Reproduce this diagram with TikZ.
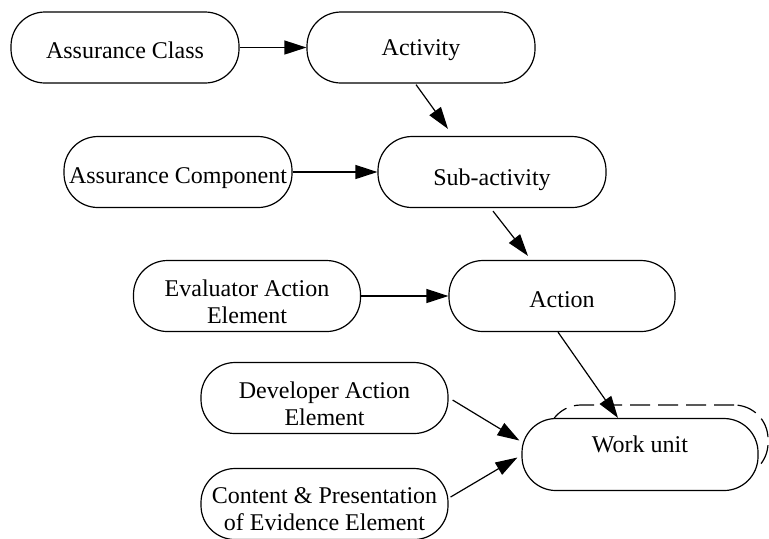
\documentclass[tikz,border=0pt]{standalone}
\usepackage{fontspec}
\setmainfont{Liberation Serif}
\usetikzlibrary{arrows.meta,calc}
\newcommand{\bltext}[2]{\raisebox{-#1}[0pt][0pt]{\begin{tabular}[b]{@{}c@{}}#2\end{tabular}}}
\begin{document}
\begin{tikzpicture}[x=0.5pt,y=-0.5pt,
  box/.style={draw, line width=0.6pt, rectangle, rounded corners=17pt,
    minimum width=114pt, minimum height=35.5pt, inner sep=0pt, align=center,
    font=\fontsize{12}{13.5}\selectfont, fill=white},
  conn/.style={draw, line width=0.6pt, -{Triangle[length=11pt,width=7pt]}},
  ghoststyle/.style={draw, line width=0.6pt, dash pattern=on 10pt off 4pt,
    rounded corners=17pt, minimum width=110.5pt, minimum height=36pt, inner sep=0pt},
]
\useasboundingbox (0,0) rectangle (769,538);

\node[box] (ac) at (125,47.5) {\bltext{5.5pt}{Assurance Class}};
\node[box] (act) at (421,47.5) {\bltext{3.75pt}{Activity}};
\node[box] (comp) at (178,172) {\bltext{5.5pt}{Assurance Component}};
\node[box] (sub) at (492,172) {\bltext{6.75pt}{Sub-activity}};
\node[box, minimum width=113.5pt] (eval) at (247,296) {\bltext{13.5pt}{Evaluator Action\\Element}};
\node[box, minimum width=113pt] (action) at (562,296) {\bltext{5.5pt}{Action}};
\node[box, minimum width=123.5pt] (dev) at (324.5,398) {\bltext{13.5pt}{Developer Action\\Element}};
\node[box, minimum width=123.5pt] (cont) at (324.5,504) {\bltext{13pt}{Content \& Presentation\\of Evidence Element}};

\node[ghoststyle] (ghost) at (657.5,441) {};
\node[box, minimum width=118pt, minimum height=36pt] (work) at (640,454.5) {\bltext{-1.25pt}{Work unit}};

\draw[conn] (ac) -- (act);
\draw[conn] ($(act.south)+(-5,1)$) -- ($(sub.north)+(-44,-7)$);
\draw[conn] (comp) -- (sub);
\draw[conn] ($(sub.south)+(1,3)$) -- ($(action.north)+(-34,-4)$);
\draw[conn] (eval) -- (action);
\draw[conn] ($(action.south)+(-4,0)$) -- ($(work.north)+(-22,0)$);
\draw[conn] ($(dev.east)+(4,2)$) -- ($(work.west)+(-2,-14)$);
\draw[conn] ($(cont.east)+(2,-7)$) -- ($(work.west)+(-4,3)$);
\end{tikzpicture}
\end{document}
